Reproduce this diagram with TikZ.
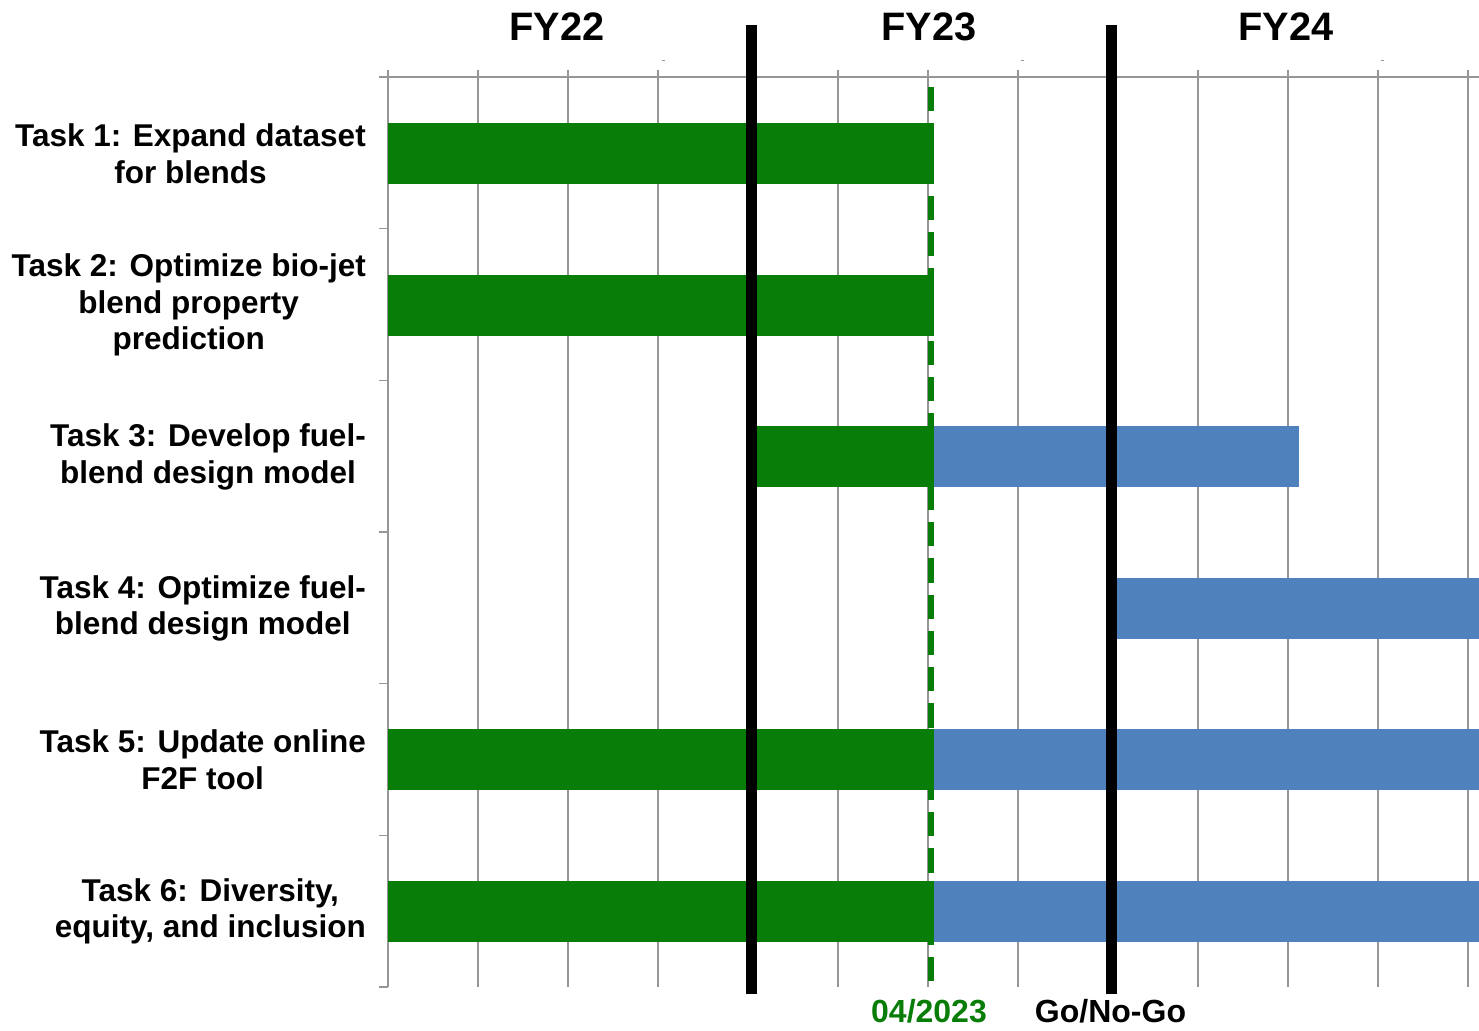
\documentclass[tikz,border=0pt]{standalone}
\usepackage{fontspec}
\setmainfont{Liberation Sans}
\usetikzlibrary{positioning}
\definecolor{donegreen}{RGB}{8,125,8}
\definecolor{planblue}{RGB}{79,129,189}
\definecolor{gridgray}{RGB}{150,150,150}

\begin{document}
\begin{tikzpicture}[x=1pt,y=-1pt,
 gridline/.style={draw=gridgray,line width=1.6pt},
 task/.style={anchor=east,align=center,inner sep=0pt,
              font=\fontsize{31.5}{36.5}\selectfont\bfseries},
 fyear/.style={anchor=base,inner sep=0pt,font=\fontsize{39.7}{44}\selectfont\bfseries},
 gatelbl/.style={anchor=base,inner sep=0pt,font=\fontsize{32}{37}\selectfont\bfseries},
 done/.style={fill=donegreen},
 plan/.style={fill=planblue},
 gate/.style={draw=black,line width=11pt},
 today/.style={draw=donegreen,line width=6pt,dash pattern=on 24.25pt off 12pt}
]
\useasboundingbox (0,0) rectangle (1479,1030);
% grid and axes
\foreach \i in {1,...,12}
  \draw[gridline] ({388+90*\i},70) -- ({388+90*\i},987);
\draw[gridline] (379,77) -- (1479,77);
\draw[gridline] (388,70) -- (388,987);
\foreach \k in {1,...,6}
  \draw[gridline] (379,{77+151.67*\k}) -- (388,{77+151.67*\k});
\foreach \x in {663,1022,1382}
  \draw[gridline,line width=1pt] ({\x-1.5},60.5) -- ({\x+1.5},60.5);
% year headers
\node[fyear] (fy22) at (557,41) {FY22};
\node[fyear] (fy23) at (929,41) {FY23};
\node[fyear] (fy24) at (1286,41) {FY24};
% task bars
\fill[done] (388,123) rectangle (934,184);
\fill[done] (388,274.6) rectangle (934,335.6);
\fill[done] (757,426.2) rectangle (934,487.2);
\fill[plan] (934,426.2) rectangle (1299,487.2);
\fill[plan] (1117,577.8) rectangle (1479,638.8);
\fill[done] (388,729.4) rectangle (934,790.4);
\fill[plan] (934,729.4) rectangle (1479,790.4);
\fill[done] (388,881) rectangle (934,942);
\fill[plan] (934,881) rectangle (1479,942);
% task labels
\node[task] (task1) at (366,153.5) {Task 1: Expand dataset\\for blends};
\node[task] (task2) at (366,305.1) {Task 2: Optimize bio-jet\\blend property\\prediction};
\node[task] (task3) at (366,456.7) {Task 3: Develop fuel-\\blend design model};
\node[task] (task4) at (366,608.3) {Task 4: Optimize fuel-\\blend design model};
\node[task] (task5) at (366,759.9) {Task 5: Update online\\F2F tool};
\node[task] (task6) at (366,911.5) {Task 6: Diversity,\\equity, and inclusion};
% milestones
\draw[today] (931,87) -- (931,981);
\draw[gate] (751,25) -- (751,994);
\draw[gate] (1111,25) -- (1111,994);
\node[gatelbl,text=donegreen] (datelbl) at (929,1022) {04/2023};
\node[gatelbl] (gonogo) at (1110.5,1022) {Go/No-Go};
\end{tikzpicture}
\end{document}
